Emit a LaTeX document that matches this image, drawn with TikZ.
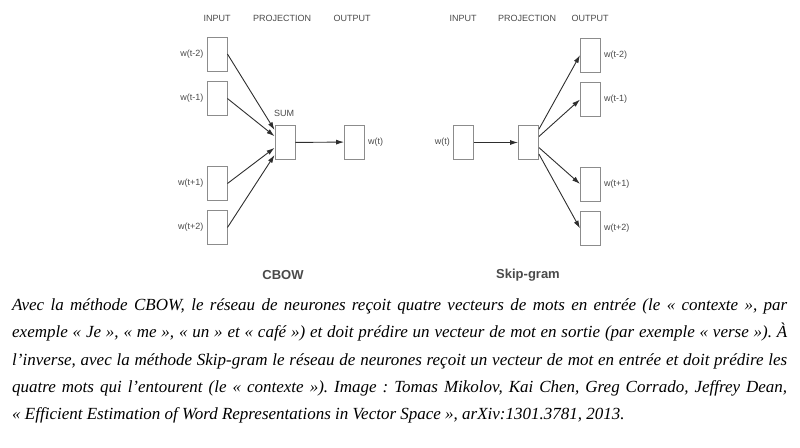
\documentclass[tikz,border=0pt]{standalone}
\usepackage{fontspec}
\setmainfont{Liberation Serif}
\setsansfont{Liberation Sans}
\usetikzlibrary{positioning,arrows.meta}

\definecolor{boxline}{HTML}{8C8C8C}
\definecolor{lblgray}{HTML}{4A4A4A}
\definecolor{arrgray}{HTML}{2E2E2E}

\tikzset{
	vec/.style={draw=boxline, line width=0.9pt, minimum width=20pt, minimum height=34pt, inner sep=0pt},
	lbl/.style={font=\sffamily\fontsize{9}{10}\selectfont, text=lblgray, inner sep=1pt},
	title/.style={font=\sffamily\bfseries\fontsize{13}{15}\selectfont, text=lblgray, inner sep=0pt},
	arr/.style={-{Latex[length=8pt,width=5pt]}, color=arrgray, line width=0.9pt}
}

\begin{document}
\begin{tikzpicture}[x=1pt,y=-1pt]
	\useasboundingbox (0,0) rectangle (800,447);
	
	% CBOW
	\node [lbl] (cin)   at (217,18) {INPUT};
	\node [lbl] (cproj) at (282,18) {PROJECTION};
	\node [lbl] (cout)  at (352,18) {OUTPUT};
	
	\node [vec] (c1) at (217,54) {};
	\node [vec] (c2) at (217,98.5) {};
	\node [vec] (c3) at (217,183.5) {};
	\node [vec] (c4) at (217,227.5) {};
	\node [vec] (sum) at (285,142.5) {};
	\node [vec] (cw) at (354.5,142) {};
	
	\node [lbl, left=2pt of c1] (lc1) {w(t-2)};
	\node [lbl, left=2pt of c2] (lc2) {w(t-1)};
	\node [lbl, left=2pt of c3] (lc3) {w(t+1)};
	\node [lbl, left=2pt of c4] (lc4) {w(t+2)};
	\node [lbl] (lsum) at (284,113) {SUM};
	\node [lbl, right=2pt of cw] (lcw) {w(t)};
	
	\path [arr]
	(c1.east) edge (sum.130)
	(c2.east) edge (sum.149)
	(c3.east) edge (sum.207)
	(c4.east) edge (sum.230)
	(sum) edge (cw);
	
	% Skip-gram
	\node [lbl] (sin)   at (463,18) {INPUT};
	\node [lbl] (sproj) at (527,18) {PROJECTION};
	\node [lbl] (sout)  at (590,18) {OUTPUT};
	
	\node [vec] (sw) at (463.5,142.5) {};
	\node [vec] (proj) at (528.5,142.5) {};
	\node [vec] (s1) at (590.5,55) {};
	\node [vec] (s2) at (590.5,99.5) {};
	\node [vec] (s3) at (590.5,184) {};
	\node [vec] (s4) at (590.5,228.5) {};
	
	\node [lbl, left=2pt of sw] (lsw) {w(t)};
	\node [lbl, right=2pt of s1] (ls1) {w(t-2)};
	\node [lbl, right=2pt of s2] (ls2) {w(t-1)};
	\node [lbl, right=2pt of s3] (ls3) {w(t+1)};
	\node [lbl, right=2pt of s4] (ls4) {w(t+2)};
	
	\path [arr]
	(sw) edge (proj)
	(proj.52) edge (s1.west)
	(proj.30) edge (s2.west)
	(proj.-26) edge (s3.west)
	(proj.-48) edge (s4.west);
	
	% legends
	\node [title] (cbow) at (283,275) {CBOW};
	\node [title] (skip) at (528,275) {Skip-gram};
	
	\node [anchor=base west, inner sep=0pt, text width=775pt, align=justify,
	font=\itshape\fontsize{17}{27.3}\selectfont] (caption) at (12,310.5)
	{\frenchspacing\hyphenpenalty=10000\tolerance=10000
		Avec la méthode CBOW, le réseau de neurones reçoit quatre vecteurs de mots en entrée (le «~contexte~», par\linebreak
		exemple «~Je~», «~me~», «~un~» et «~café~») et doit prédire un vecteur de mot en sortie (par exemple «~verse~»). À\linebreak
		l’inverse, avec la méthode Skip-gram le réseau de neurones reçoit un vecteur de mot en entrée et doit prédire les\linebreak
		quatre mots qui l’entourent (le «~contexte~»). Image~: Tomas Mikolov, Kai Chen, Greg Corrado, Jeffrey Dean,\linebreak
		«~Efficient Estimation of Word Representations in Vector Space~», arXiv:1301.3781, 2013.};
\end{tikzpicture}
\end{document}
